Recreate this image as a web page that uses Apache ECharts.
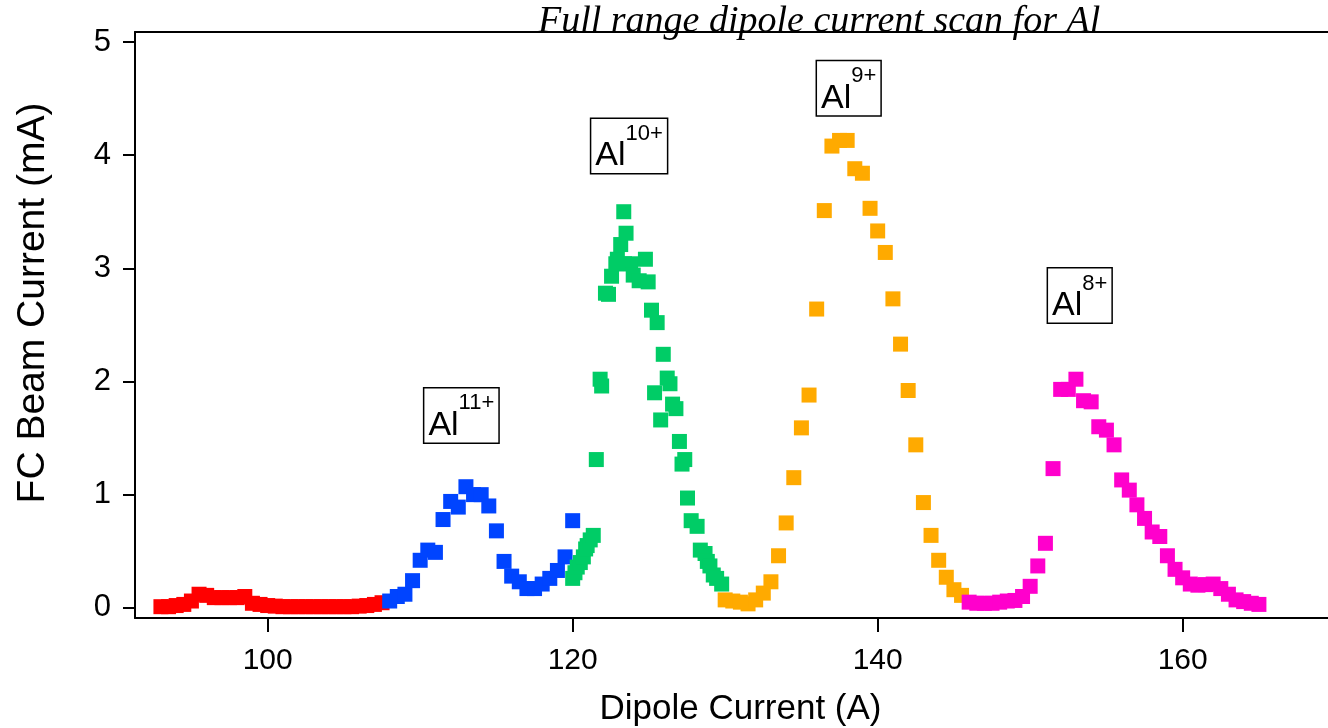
<!DOCTYPE html>
<html><head><meta charset="utf-8">
<script src="https://cdn.jsdelivr.net/npm/echarts@6/dist/echarts.min.js"></script>
<style>html,body{margin:0;padding:0;background:#fff}#c{width:1328px;height:728px}</style>
</head><body><div id="c"></div>
<script>
// ---- data ----
const titleText = 'Full range dipole current scan for Al';
const xName = 'Dipole Current (A)';
const yName = 'FC Beam Current (mA)';
const xTicks = [100, 120, 140, 160];
const yTicks = [0, 1, 2, 3, 4, 5];

const redX = [93,93.5,94,94.5,95,95.5,96,96.5,97,97.5,98,98.5,99,99.5,100,100.5,101,101.5,102,102.5,103,103.5,104,104.5,105,105.5,106,106.5,107,107.5];
const redY = [0.01,0.01,0.02,0.03,0.06,0.12,0.11,0.09,0.09,0.09,0.09,0.10,0.04,0.03,0.02,0.015,0.01,0.01,0.01,0.01,0.01,0.01,0.01,0.01,0.01,0.01,0.015,0.02,0.03,0.045];

const blueX = [108,108.5,109,109.5,110,110.5,111,111.5,112,112.5,113,113.5,114,114.5,115,115.5,116,116.5,117,117.5,118,118.5,119,119.5,120];
const blueY = [0.06,0.10,0.12,0.24,0.42,0.51,0.49,0.78,0.94,0.89,1.07,1.00,1.00,0.90,0.68,0.41,0.28,0.23,0.17,0.17,0.21,0.26,0.33,0.45,0.77];

const greenX = [120.0,120.15,120.3,120.5,120.7,120.85,120.95,121.15,121.35,121.55,121.8,121.9,122.15,122.35,122.55,122.83,122.93,123.15,123.35,123.4,123.5,123.8,123.97,124.36,124.77,124.95,125.17,125.37,125.54,125.77,125.94,126.2,126.38,126.55,126.77,127.0,127.17,127.35,127.53,127.77,128.16,128.37,128.68,128.83,129.0,129.22,129.44,129.77];
const greenY = [0.26,0.31,0.36,0.40,0.45,0.52,0.55,0.60,0.64,1.31,2.02,1.96,2.78,2.77,2.93,3.04,3.08,3.21,3.50,3.04,3.31,3.04,2.94,2.89,3.08,2.88,2.63,1.90,2.52,1.66,2.24,2.03,1.98,1.80,1.76,1.47,1.27,1.31,0.97,0.77,0.72,0.51,0.48,0.41,0.37,0.29,0.26,0.21];

const orangeX = [130,130.5,131,131.5,132,132.5,133,133.5,134,134.5,135,135.5,136,136.5,137,137.5,138,138.5,139,139.5,140,140.5,141,141.5,142,142.5,143,143.5,144,144.5,145,145.5];
const orangeY = [0.07,0.06,0.05,0.035,0.07,0.13,0.23,0.46,0.75,1.15,1.59,1.88,2.64,3.51,4.08,4.13,4.13,3.88,3.84,3.53,3.33,3.14,2.73,2.33,1.92,1.44,0.93,0.64,0.42,0.27,0.16,0.11];

const magentaX = [146,146.5,147,147.5,148,148.5,149,149.5,150,150.5,151,151.5,152,152.5,153,153.5,154,154.5,155,155.5,156,156.5,157,157.5,158,158.5,159,159.5,160,160.5,161,161.5,162,162.5,163,163.5,164,164.5,165];
const magentaY = [0.05,0.04,0.04,0.04,0.05,0.06,0.065,0.10,0.19,0.37,0.57,1.23,1.93,1.93,2.02,1.83,1.82,1.60,1.57,1.44,1.13,1.04,0.91,0.79,0.67,0.63,0.46,0.34,0.265,0.21,0.20,0.205,0.21,0.17,0.12,0.07,0.055,0.04,0.03];

const annX = [112.7, 123.7, 138.1, 153.25];
const annY = [1.70, 4.08, 4.59, 2.76];
const annSup = ['11+', '10+', '9+', '8+'];

// ---- chart ----
const SANS = "'Liberation Sans',Arial,sans-serif";
const zip = (xs, ys) => xs.map((x, i) => [x, ys[i]]);
const mk = (name, xs, ys, color) => ({
  name, type: 'scatter', data: zip(xs, ys), symbol: 'rect', symbolSize: 15,
  itemStyle: { color, opacity: 1 }, silent: true, animation: false
});
const xMin = 91.3, xMax = 169.53, yMin = -0.09, yMax = 5.088;

const chart = echarts.init(document.getElementById('c'), null, { renderer: 'canvas' });
chart.setOption({
  animation: false,
  backgroundColor: '#fff',
  title: {
    text: titleText, left: 533, top: -2,
    textStyle: { fontFamily: "'Liberation Serif','Times New Roman',serif", fontStyle: 'italic', fontWeight: 'normal', fontSize: 38, color: '#000' }
  },
  grid: { left: 135, right: 0, top: 32, bottom: 110, outerBoundsMode: 'none', containLabel: false },
  xAxis: [{
    type: 'value', min: xMin, max: xMax, position: 'bottom',
    name: xName, nameLocation: 'middle', nameGap: 74,
    nameTextStyle: { fontFamily: SANS, fontSize: 35, color: '#000', padding: [0, 0, 0, 18] },
    axisLine: { show: true, onZero: false, lineStyle: { color: '#000', width: 2 } },
    axisTick: { show: true, customValues: xTicks, length: 14, inside: false, lineStyle: { color: '#000', width: 2 } },
    axisLabel: { customValues: xTicks, margin: 28, fontFamily: SANS, fontSize: 30, color: '#000' },
    splitLine: { show: false }
  }, {
    type: 'value', min: xMin, max: xMax, position: 'top',
    axisLine: { show: true, onZero: false, lineStyle: { color: '#000', width: 2 } },
    axisTick: { show: false }, axisLabel: { show: false }, splitLine: { show: false }
  }],
  yAxis: {
    type: 'value', min: yMin, max: yMax,
    name: yName, nameLocation: 'middle', nameGap: 82,
    nameTextStyle: { fontFamily: SANS, fontSize: 39, color: '#000', padding: [0, 0, 0, 44] },
    axisLine: { show: true, onZero: false, lineStyle: { color: '#000', width: 2 } },
    axisTick: { show: true, customValues: yTicks, length: 12, lineStyle: { color: '#000', width: 2 } },
    axisLabel: { customValues: yTicks, margin: 24, fontFamily: SANS, fontSize: 31, color: '#000' },
    splitLine: { show: false }
  },
  series: [
    mk('red', redX, redY, '#ff0000'),
    mk('blue', blueX, blueY, '#0044ff'),
    mk('green', greenX, greenY, '#00cc66'),
    mk('orange', orangeX, orangeY, '#ffaa00'),
    mk('magenta', magentaX, magentaY, '#ff00cc'),
    {
      name: 'labels', type: 'scatter', z: 10, silent: true,
      data: annX.map((x, i) => ({ value: [x, annY[i]], sup: annSup[i] })),
      symbol: 'rect', symbolSize: 1, itemStyle: { color: 'rgba(0,0,0,0)', opacity: 1 },
      label: {
        show: true, position: 'inside', opacity: 1,
        formatter: p => '{a|Al}{s|' + p.data.sup + '}',
        backgroundColor: '#fff', borderColor: '#000', borderWidth: 1.5,
        padding: [4, 4, 0, 4],
        rich: {
          a: { fontFamily: SANS, fontSize: 34, color: '#000', lineHeight: 50, verticalAlign: 'bottom' },
          s: { fontFamily: SANS, fontSize: 22, color: '#000', lineHeight: 24, verticalAlign: 'top' }
        }
      }
    }
  ]
});
</script></body></html>
